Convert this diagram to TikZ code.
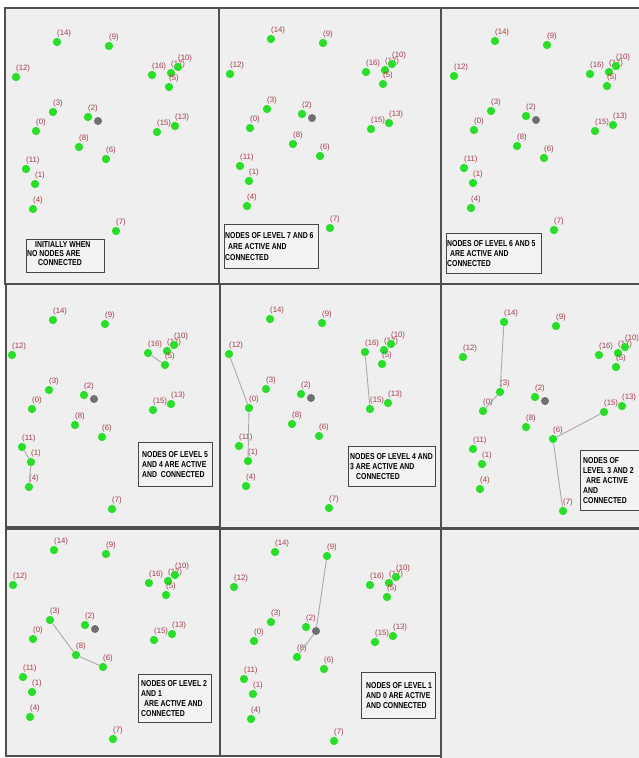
\documentclass[tikz,border=0pt]{standalone}
\usepackage{fontspec}
\setmainfont{Liberation Sans}
\newfontfamily\notefamily[FakeStretch=0.8]{Liberation Sans Bold}
\newfontfamily\lblfamily{Liberation Sans}
\definecolor{panelbg}{RGB}{239,239,239}
\definecolor{framegray}{RGB}{80,80,80}
\definecolor{dotgreen}{RGB}{40,222,40}
\definecolor{sinkgray}{RGB}{112,112,112}
\definecolor{lblred}{RGB}{165,60,70}
\definecolor{edgegray}{RGB}{170,170,170}
\definecolor{notebg}{RGB}{243,243,243}
\definecolor{notegray}{RGB}{70,70,70}
\tikzset{
  dot/.style={circle,fill=dotgreen,minimum size=8.3pt,inner sep=0pt},
  sinkdot/.style={circle,fill=sinkgray,minimum size=8pt,inner sep=0pt},
  lbl/.style={font=\lblfamily\fontsize{7.8}{8}\selectfont,text=lblred,inner sep=0pt,anchor=south west},
  edge/.style={draw=edgegray,line width=0.9pt},
  panelbox/.style={draw=framegray,line width=1.2pt,fill=panelbg},
  notebox/.style={draw=notegray,line width=1pt,fill=notebg,inner sep=0pt,anchor=north west},
  notetext/.style={text=black,font=\notefamily\fontsize{8.6}{10}\selectfont,align=left,inner sep=0pt,anchor=west}
}
\newcommand{\drawnet}[3]{%
\begin{scope}[shift={(#2,#3)}]
\node[dot,label={[lbl]north:(12)}] (#1-12) at (16,77) {};
\node[dot,label={[lbl]north:(14)}] (#1-14) at (57,42) {};
\node[dot,label={[lbl]north:(9)}] (#1-9) at (109,46) {};
\node[dot,label={[lbl]north:(16)}] (#1-16) at (152,75) {};
\node[dot,label={[lbl]north:(17)}] (#1-17) at (171,73) {};
\node[dot,label={[lbl]north:(10)}] (#1-10) at (178,67) {};
\node[dot,label={[lbl]north:(5)}] (#1-5) at (169,87) {};
\node[dot,label={[lbl]north:(3)}] (#1-3) at (53,112) {};
\node[dot,label={[lbl]north:(2)}] (#1-2) at (88,117) {};
\node[sinkdot] (#1-s) at (98,121) {};
\node[dot,label={[lbl]north:(0)}] (#1-0) at (36,131) {};
\node[dot,label={[lbl]north:(15)}] (#1-15) at (157,132) {};
\node[dot,label={[lbl]north:(13)}] (#1-13) at (175,126) {};
\node[dot,label={[lbl]north:(8)}] (#1-8) at (79,147) {};
\node[dot,label={[lbl]north:(6)}] (#1-6) at (106,159) {};
\node[dot,label={[lbl]north:(11)}] (#1-11) at (26,169) {};
\node[dot,label={[lbl]north:(1)}] (#1-1) at (35,184) {};
\node[dot,label={[lbl]north:(4)}] (#1-4) at (33,209) {};
\node[dot,label={[lbl]north:(7)}] (#1-7) at (116,231) {};
\end{scope}}
\begin{document}
\begin{tikzpicture}[x=1pt,y=-1pt]
\useasboundingbox[fill=white] (0,0) rectangle (638,758);
% panels
\draw[panelbox] (5,8) rectangle (219,284);
\draw[panelbox] (219,8) rectangle (441,284);
\draw[panelbox] (441,8) rectangle (645,284);
\draw[panelbox] (6,284) rectangle (220,527);
\draw[panelbox] (220,284) rectangle (441,528);
\draw[panelbox] (441,284) rectangle (645,528);
\draw[panelbox] (6,529) rectangle (220,756);
\draw[panelbox] (220,529) rectangle (441,756);
\draw[panelbox] (441,529) rectangle (645,765);
% networks
\drawnet{a}{0}{0}
\drawnet{b}{214}{-3}
\drawnet{c}{438}{-1}
\drawnet{d}{-4}{278}
\drawnet{e}{213}{277}
\drawnet{f}{447}{280}
\drawnet{g}{-3}{508}
\drawnet{h}{218}{510}
% connections
\draw[edge] (d-16) -- (d-5);
\draw[edge] (d-11) -- (d-1);
\draw[edge] (d-1) -- (d-4);
\draw[edge] (e-12) -- (e-0);
\draw[edge] (e-0) -- (e-1);
\draw[edge] (e-16) -- (e-15);
\draw[edge] (f-14) -- (f-3);
\draw[edge] (f-3) -- (f-0);
\draw[edge] (f-15) -- (f-6);
\draw[edge] (f-6) -- (f-7);
\draw[edge] (g-3) -- (g-8);
\draw[edge] (g-8) -- (g-6);
\draw[edge] (h-9) -- (h-s);
\draw[edge] (h-s) -- (h-8);
% notes
\node[notebox,minimum width=78pt,minimum height=33pt] (na) at (26,239) {};
\node[notetext,font=\notefamily\fontsize{8.6}{9}\selectfont] (nat) at ([xshift=1pt,yshift=2pt]na.west)
  {\hspace*{8pt}INITIALLY WHEN\\NO NODES ARE\\\hspace*{11pt}CONNECTED};
\node[notebox,minimum width=94pt,minimum height=44pt] (nb) at (224,224) {};
\node[notetext,font=\notefamily\fontsize{8.6}{11}\selectfont] (nbt) at ([xshift=1pt]nb.west)
  {NODES OF LEVEL 7 AND 6\\\hspace*{3pt}ARE ACTIVE AND\\CONNECTED};
\node[notebox,minimum width=95pt,minimum height=40pt] (nc) at (446,233) {};
\node[notetext] (nct) at ([xshift=1pt]nc.west)
  {NODES OF LEVEL 6 AND 5\\\hspace*{3pt}ARE ACTIVE AND\\CONNECTED};
\node[notebox,minimum width=74pt,minimum height=44pt] (nd) at (138,442) {};
\node[notetext] (ndt) at ([xshift=4pt]nd.west)
  {NODES OF LEVEL 5\\AND 4 ARE ACTIVE\\AND\ \ CONNECTED};
\node[notebox,minimum width=87pt,minimum height=40pt] (ne) at (348,446) {};
\node[notetext] (net) at ([xshift=2pt]ne.west)
  {NODES OF LEVEL 4 AND\\3 ARE ACTIVE AND\\\hspace*{6pt}CONNECTED};
\node[notebox,minimum width=62pt,minimum height=60pt] (nf) at (580,450) {};
\node[notetext] (nft) at ([xshift=3pt]nf.west)
  {NODES OF\\LEVEL 3 AND 2\\\hspace*{3pt}ARE ACTIVE\\AND\\CONNECTED};
\node[notebox,minimum width=73pt,minimum height=48pt] (ng) at (138,674) {};
\node[notetext] (ngt) at ([xshift=3pt]ng.west)
  {NODES OF LEVEL 2\\AND 1\\\hspace*{3pt}ARE ACTIVE AND\\CONNECTED};
\node[notebox,minimum width=74pt,minimum height=46pt] (nh) at (361,672) {};
\node[notetext] (nht) at ([xshift=5pt]nh.west)
  {NODES OF LEVEL 1\\AND 0 ARE ACTIVE\\AND CONNECTED};
\end{tikzpicture}
\end{document}
